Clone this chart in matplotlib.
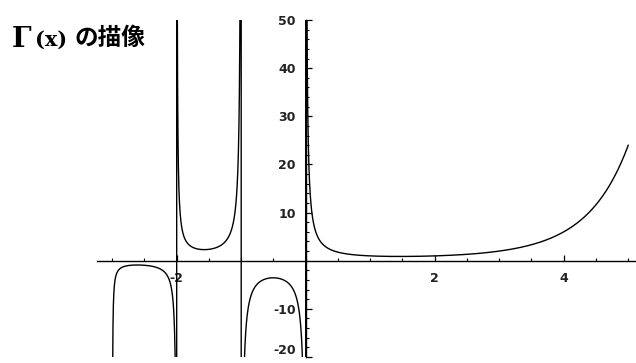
import math
import numpy as np
import matplotlib
matplotlib.use("Agg")
import matplotlib.pyplot as plt
from matplotlib.ticker import FixedLocator, MultipleLocator

# --- data -----------------------------------------------------------------
x_start, x_end = -3.0, 5.0          # plotted domain of Γ(x)
sample_step = 0.001
x_tick_values = [-2, 2, 4]
x_tick_labels = ["-2", "2", "4"]
y_tick_values = [-20, -10, 10, 20, 30, 40, 50]
y_tick_labels = ["-20", "-10", "10", "20", "30", "40", "50"]
title_parts = ["Γ", "(x)", "の描像"]

xs = np.arange(x_start + sample_step / 2, x_end + 1e-9, sample_step)
ys = np.array([math.gamma(v) for v in xs])
ys = np.clip(ys, -200, 200)

# --- figure ---------------------------------------------------------------
W, H = 636, 363
fig = plt.figure(figsize=(W / 100, H / 100), dpi=100)

xlim = (-3.24, 5.12)
ylim = (-20, 50)
left_px, right_px = 96.7, 636
top_px, bottom_px = 20, 357
ax = fig.add_axes([left_px / W, 1 - bottom_px / H,
                   (right_px - left_px) / W, (bottom_px - top_px) / H])
ax.set_xlim(*xlim)
ax.set_ylim(*ylim)
ax.patch.set_alpha(0)

ax.plot(xs, ys, color="black", lw=1.0, solid_joinstyle="miter")

for s in ["top", "right"]:
    ax.spines[s].set_visible(False)
ax.spines["left"].set_position(("data", 0))
ax.spines["bottom"].set_position(("data", 0))
for s in ["left", "bottom"]:
    ax.spines[s].set_linewidth(1.0)
    ax.spines[s].set_color("black")

ax.xaxis.set_major_locator(FixedLocator(x_tick_values))
ax.set_xticklabels(x_tick_labels)
ax.xaxis.set_minor_locator(MultipleLocator(0.5))
ax.yaxis.set_major_locator(FixedLocator(y_tick_values))
ax.set_yticklabels(y_tick_labels)
ax.yaxis.set_minor_locator(MultipleLocator(2))

ax.tick_params(which="major", direction="in", length=4.5, width=0.9, color="black")
ax.tick_params(which="minor", direction="in", length=2.5, width=0.8, color="black")
ax.tick_params(axis="x", which="major", pad=8)
ax.tick_params(axis="y", which="major", pad=7)
for lab in ax.get_xticklabels() + ax.get_yticklabels():
    lab.set_fontfamily("DejaVu Sans")
    lab.set_fontweight("bold")
    lab.set_fontsize(9)
    lab.set_color("#222222")
# keep the lowest label inside the picture
for lab in ax.get_yticklabels():
    if lab.get_text() == "-20":
        lab.set_verticalalignment("bottom")

# title
fig.text(12 / W, 1 - 47 / H, title_parts[0], family="DejaVu Serif",
         fontweight="bold", fontsize=20, va="baseline", ha="left")
fig.text(35 / W, 1 - 46 / H, title_parts[1], family="DejaVu Serif",
         fontweight="bold", fontsize=15, va="baseline", ha="left")
fig.text(75 / W, 1 - 45 / H, title_parts[2],
         family=["Noto Sans CJK JP", "DejaVu Sans"],
         fontweight="bold", fontsize=17, va="baseline", ha="left")

fig.savefig("out.png", dpi=100)
